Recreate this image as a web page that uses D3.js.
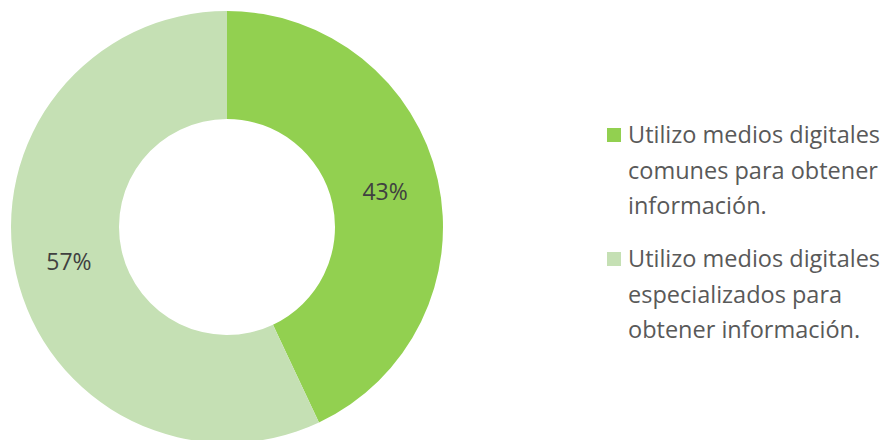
<!DOCTYPE html>
<html>
<head>
    <meta charset="utf-8">
    <script src="https://cdn.jsdelivr.net/npm/d3@7"></script>
    <style>
        body {
            margin: 0;
            padding: 0;
            background-color: white;
        }
        .pct {
            font-family: "Open Sans", sans-serif;
            font-size: 23px;
            fill: #404040;
        }
        .legend-text {
            font-family: "Open Sans", sans-serif;
            font-size: 23.5px;
            fill: #595959;
        }
    </style>
</head>
<body>
    <div id="chart"></div>

    <script>
        const categories = ["comunes", "especializados"];
        const values = [43, 57];
        const labels = ["43%", "57%"];
        const legendLines = [
            ["Utilizo medios digitales", "comunes para obtener", "información."],
            ["Utilizo medios digitales", "especializados para", "obtener información."]
        ];
        const colors = ["#92D050", "#C5E0B4"];

        const width = 892, height = 440;
        const cx = 227, cy = 227;
        const outerR = 216, innerR = 108;

        const svg = d3.select("#chart")
            .append("svg")
            .attr("width", width)
            .attr("height", height);

        const g = svg.append("g")
            .attr("transform", `translate(${cx},${cy})`);

        const pie = d3.pie().sort(null).value(d => d);
        const arc = d3.arc().innerRadius(innerR).outerRadius(outerR);

        const arcs = pie(values);

        g.selectAll(".slice")
            .data(arcs)
            .enter()
            .append("path")
            .attr("class", "slice")
            .attr("d", arc)
            .attr("fill", (d, i) => colors[i]);

        g.selectAll(".pct")
            .data(arcs)
            .enter()
            .append("text")
            .attr("class", "pct")
            .attr("transform", d => `translate(${arc.centroid(d)})`)
            .attr("text-anchor", "middle")
            .attr("dy", "0.35em")
            .text((d, i) => labels[i]);

        // legend
        const legend = svg.append("g")
            .attr("transform", "translate(607,128)");

        const item = legend.selectAll(".item")
            .data(categories)
            .enter()
            .append("g")
            .attr("class", "item")
            .attr("transform", (d, i) => `translate(0,${i * 124})`);

        item.append("rect")
            .attr("width", 14)
            .attr("height", 14)
            .attr("fill", (d, i) => colors[i]);

        item.each(function (d, i) {
            const t = d3.select(this).append("text")
                .attr("class", "legend-text")
                .attr("x", 21)
                .attr("y", 15);
            legendLines[i].forEach((line, j) => {
                t.append("tspan")
                    .attr("x", 21)
                    .attr("dy", j === 0 ? 0 : 35.5)
                    .text(line);
            });
        });
    </script>
</body>
</html>
